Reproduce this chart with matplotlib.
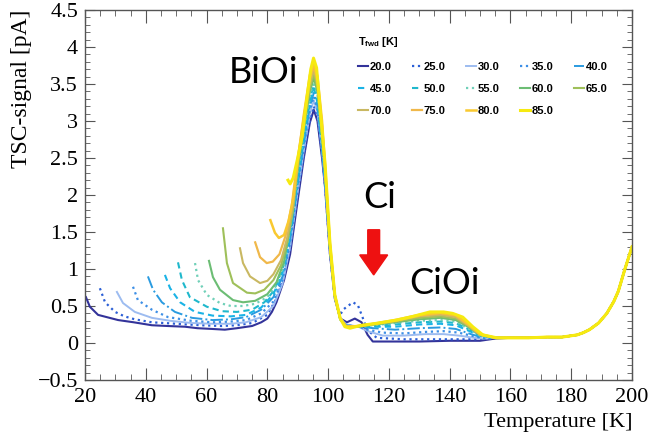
import numpy as np
import matplotlib
matplotlib.use("Agg")
import matplotlib.pyplot as plt
from matplotlib.ticker import MultipleLocator, FuncFormatter

plt.rcParams['mathtext.fontset'] = 'custom'
plt.rcParams['mathtext.rm'] = 'Liberation Sans'
plt.rcParams['mathtext.bf'] = 'Liberation Sans:bold'

# forward-injection temperatures of the TSC runs
t_fwd = [20.0, 25.0, 30.0, 35.0, 40.0, 45.0, 50.0, 55.0, 60.0, 65.0, 70.0, 75.0, 80.0, 85.0]

# common high-temperature tail (all runs coincide here)
t_tail = [160, 166, 172, 177, 182, 184, 186, 189, 191.7, 194, 195.5, 197.6, 200]
s_tail = [0.07, 0.07, 0.08, 0.08, 0.11, 0.14, 0.18, 0.27, 0.40, 0.56, 0.70, 0.99, 1.30]

t20 = [20.3, 21.6, 24.3, 30.9, 36, 42, 47, 52.9, 57, 61.8, 66, 70, 75, 78, 80, 81.5, 83, 85.5, 87.5, 90, 92, 94, 95.3, 96.5,
       98, 99, 100.6, 102.2, 104, 106.2, 108.8, 111, 113, 114.7, 120, 130, 140, 150, 155]
s20 = [0.62, 0.49, 0.38, 0.31, 0.28, 0.24, 0.23, 0.22, 0.20, 0.19, 0.18, 0.20, 0.23, 0.28, 0.33, 0.42, 0.55, 0.85, 1.20, 1.93,
       2.50, 2.98, 3.15, 3.00, 2.50, 2.10, 1.20, 0.60, 0.33, 0.28, 0.33, 0.28, 0.11, 0.02, 0.02, 0.02, 0.03, 0.03, 0.06]

t25 = [24.9, 26.6, 29.9, 33, 36.4, 42, 50, 58, 65, 70, 75, 80, 83, 85.5, 87.5, 90, 92, 94, 95.3, 96.5, 98, 99, 100.6, 102.2,
       104, 104.9, 106.5, 108.2, 109.8, 111.4, 112.8, 116, 125, 135, 142, 148, 155]
s25 = [0.74, 0.55, 0.42, 0.36, 0.32, 0.28, 0.26, 0.24, 0.23, 0.24, 0.27, 0.38, 0.60, 0.90, 1.28, 2.00, 2.55, 3.02, 3.20, 3.05,
       2.55, 2.12, 1.22, 0.60, 0.38, 0.45, 0.50, 0.55, 0.51, 0.34, 0.18, 0.07, 0.05, 0.05, 0.05, 0.05, 0.07]

t30 = [30.5, 32.5, 36.4, 42, 48, 55, 62, 68, 73, 78, 82, 85, 87.5, 90, 92, 94, 95.3, 96.5, 98, 99, 100.6, 102.2, 104, 106,
       110, 113, 118, 125, 132, 138, 143, 148, 152, 155]
s30 = [0.69, 0.54, 0.42, 0.34, 0.30, 0.27, 0.26, 0.26, 0.28, 0.35, 0.50, 0.80, 1.30, 2.05, 2.60, 3.10, 3.28, 3.12, 2.60, 2.15,
       1.25, 0.62, 0.33, 0.25, 0.22, 0.16, 0.10, 0.10, 0.12, 0.12, 0.10, 0.07, 0.06, 0.07]

t35 = [35.8, 37.4, 42, 47.3, 55, 62, 68, 73, 78, 82, 85, 87.5, 90, 92, 94, 95.3, 96.5, 98, 99, 100.6, 102.2, 104, 106, 110,
       113, 118, 125, 132, 138, 143, 148, 152, 155]
s35 = [0.76, 0.58, 0.45, 0.35, 0.30, 0.28, 0.29, 0.31, 0.40, 0.56, 0.85, 1.35, 2.10, 2.65, 3.15, 3.33, 3.15, 2.62, 2.18, 1.26,
       0.63, 0.33, 0.24, 0.22, 0.18, 0.14, 0.13, 0.15, 0.16, 0.14, 0.09, 0.06, 0.07]

t40 = [40.7, 42.4, 45.3, 49.6, 55.2, 62, 68, 73, 78, 82, 85, 87.5, 90, 92, 94, 95.3, 96.5, 98, 99, 100.6, 102.2, 104, 106,
       110, 115, 122, 130, 137, 142, 147, 151, 155]
s40 = [0.90, 0.72, 0.55, 0.42, 0.34, 0.31, 0.32, 0.35, 0.45, 0.62, 0.90, 1.40, 2.15, 2.70, 3.20, 3.38, 3.20, 2.65, 2.20, 1.28,
       0.64, 0.33, 0.24, 0.22, 0.20, 0.18, 0.20, 0.21, 0.19, 0.12, 0.07, 0.07]

t45 = [46.3, 48, 51.3, 56.2, 62, 68, 73, 78, 82, 85, 87.5, 90, 92, 94, 95.3, 96.5, 98, 99, 100.6, 102.2, 104, 106, 110, 115,
       122, 130, 137, 142, 146, 150, 155]
s45 = [0.92, 0.74, 0.55, 0.42, 0.37, 0.36, 0.38, 0.48, 0.66, 0.95, 1.45, 2.20, 2.75, 3.25, 3.43, 3.25, 2.68, 2.22, 1.29, 0.64,
       0.32, 0.23, 0.22, 0.22, 0.22, 0.25, 0.26, 0.24, 0.17, 0.10, 0.07]

t50 = [50.6, 51.9, 54.5, 60.1, 65, 70, 75, 79, 82, 85, 87.5, 90, 92, 94, 95.3, 96.5, 98, 99, 100.6, 102.2, 104, 106, 110, 115,
       122, 130, 137, 142, 146, 150, 155]
s50 = [1.09, 0.85, 0.62, 0.49, 0.43, 0.42, 0.45, 0.55, 0.70, 1.00, 1.50, 2.25, 2.80, 3.30, 3.48, 3.30, 2.70, 2.25, 1.30, 0.64,
       0.32, 0.22, 0.22, 0.23, 0.25, 0.28, 0.29, 0.27, 0.19, 0.10, 0.07]

t55 = [56.2, 57.2, 60.1, 64.4, 68, 72, 76, 80, 83, 85.5, 87.5, 90, 92, 94, 95.3, 96.5, 98, 99, 100.6, 102.2, 104, 106, 110,
       115, 122, 130, 137, 142, 146, 150, 155]
s55 = [1.08, 0.85, 0.65, 0.54, 0.50, 0.50, 0.53, 0.62, 0.78, 1.05, 1.55, 2.30, 2.85, 3.35, 3.53, 3.35, 2.75, 2.28, 1.30, 0.64,
       0.32, 0.22, 0.22, 0.24, 0.27, 0.30, 0.31, 0.29, 0.20, 0.10, 0.07]

t60 = [60.8, 62.1, 64.4, 68.7, 72, 76, 80, 83, 85.5, 87.5, 90, 92, 94, 95.3, 96.5, 98, 99, 100.6, 102.2, 104, 106, 110, 115,
       122, 130, 137, 142, 146, 150, 155]
s60 = [1.11, 0.89, 0.72, 0.58, 0.55, 0.57, 0.66, 0.82, 1.10, 1.60, 2.35, 2.90, 3.40, 3.58, 3.40, 2.80, 2.30, 1.31, 0.64, 0.32,
       0.22, 0.22, 0.25, 0.28, 0.32, 0.34, 0.31, 0.22, 0.11, 0.07]

t65 = [65.4, 66.7, 68.7, 73.3, 76, 79, 82, 84.5, 86.5, 88.5, 90, 92, 94, 95.3, 96.5, 98, 99, 100.6, 102.2, 104, 106, 110, 115,
       122, 130, 137, 142, 146, 150, 155]
s65 = [1.55, 1.08, 0.81, 0.68, 0.67, 0.72, 0.85, 1.05, 1.35, 1.80, 2.40, 2.95, 3.45, 3.63, 3.45, 2.85, 2.33, 1.32, 0.64, 0.32,
       0.22, 0.22, 0.25, 0.29, 0.34, 0.36, 0.33, 0.23, 0.11, 0.07]

t70 = [71, 72, 74.3, 77.6, 80, 82, 84.5, 86.5, 88.5, 90, 92, 94, 95.3, 96.5, 98, 99, 100.6, 102.2, 104, 106, 110, 115, 122,
       130, 137, 142, 146, 150, 155]
s70 = [1.28, 1.08, 0.90, 0.81, 0.84, 0.93, 1.12, 1.42, 1.88, 2.45, 3.00, 3.50, 3.68, 3.50, 2.90, 2.35, 1.33, 0.65, 0.33, 0.22,
       0.23, 0.26, 0.30, 0.36, 0.38, 0.35, 0.24, 0.11, 0.07]

t75 = [76, 77.6, 79.8, 81.8, 84, 86, 88, 90, 92, 94, 95.3, 96.5, 98, 99, 100.6, 102.2, 104, 106, 110, 115, 122, 130, 137, 142,
       146, 150, 155]
s75 = [1.36, 1.16, 1.08, 1.10, 1.20, 1.45, 1.85, 2.50, 3.05, 3.58, 3.73, 3.55, 2.95, 2.38, 1.34, 0.65, 0.33, 0.22, 0.23, 0.26,
       0.30, 0.37, 0.40, 0.37, 0.25, 0.12, 0.07]

t80 = [81, 82.5, 83.8, 85.5, 87, 88.5, 90, 92, 94, 95.3, 96.5, 98, 99, 100.6, 102.2, 104, 106, 110, 115, 122, 130, 137, 142,
       146, 150, 155]
s80 = [1.66, 1.49, 1.42, 1.46, 1.65, 1.95, 2.45, 3.08, 3.62, 3.78, 3.60, 3.00, 2.40, 1.35, 0.65, 0.33, 0.22, 0.23, 0.26, 0.31,
       0.38, 0.41, 0.38, 0.26, 0.12, 0.07]

t85 = [86.8, 87.5, 88.5, 90, 91.5, 93, 94.3, 95.2, 96.2, 97.5, 99, 100.6, 102.2, 104, 105.5, 107.2, 111, 115, 122.6, 128,
       133.5, 138, 141, 144.3, 147.6, 150.9, 155.5]
s85 = [2.20, 2.15, 2.23, 2.50, 2.80, 3.30, 3.70, 3.85, 3.72, 3.10, 2.42, 1.35, 0.65, 0.33, 0.22, 0.20, 0.24, 0.26, 0.31, 0.36,
       0.42, 0.42, 0.40, 0.35, 0.22, 0.11, 0.07]

runs_t = [t20, t25, t30, t35, t40, t45, t50, t55, t60, t65, t70, t75, t80, t85]
runs_s = [s20, s25, s30, s35, s40, s45, s50, s55, s60, s65, s70, s75, s80, s85]

colors = ['#33339a', '#2b5fd6', '#9dbcf0', '#3d8fe6', '#2a9be0', '#1ab3e6', '#1fb8cc',
          '#70d0b8', '#6cbd74', '#9fc05a', '#c9b862', '#f0b84a', '#f9c930', '#f6ea10']
styles = ['-', ':', '-', ':', '-.', (0, (3, 2)), (0, (3, 2)), ':', '-', '-', '-', '-', '-', '-']
widths = [1.5, 1.6, 1.4, 1.6, 1.4, 1.5, 1.5, 1.6, 1.5, 1.5, 1.5, 1.6, 1.8, 2.2]

fig = plt.figure(figsize=(6.51, 4.37), dpi=100)
ax = fig.add_axes([85 / 651, 57 / 437, (632 - 85) / 651, (427 - 57) / 437])

lines = []
for i in range(len(t_fwd)):
    tt = np.concatenate([runs_t[i], t_tail])
    ss = np.concatenate([runs_s[i], s_tail])
    ln, = ax.plot(tt, ss, color=colors[i], ls=styles[i], lw=widths[i], label='%.1f' % t_fwd[i])
    lines.append(ln)

ax.set_xlim(20, 200)
ax.set_ylim(-0.5, 4.5)

serif = 'Liberation Serif'
ax.xaxis.set_major_locator(MultipleLocator(20))
ax.xaxis.set_minor_locator(MultipleLocator(5))
ax.yaxis.set_major_locator(MultipleLocator(0.5))
ax.yaxis.set_minor_locator(MultipleLocator(0.1))
ax.yaxis.set_major_formatter(FuncFormatter(lambda v, p: ('%g' % v).replace('-', '\u2212')))
ax.tick_params(which='both', direction='in', top=True, right=True, color='#555555')
ax.tick_params(axis='x', which='major', length=9, pad=6)
ax.tick_params(axis='x', which='minor', length=4.5)
ax.tick_params(axis='y', which='major', length=7, pad=5)
ax.tick_params(axis='y', which='minor', length=3.5)
for lab in ax.get_xticklabels() + ax.get_yticklabels():
    lab.set_fontfamily(serif)
    lab.set_fontsize(16)
for sp in ax.spines.values():
    sp.set_color('#555555')
    sp.set_linewidth(1.0)

ax.set_xlabel('Temperature [K]', loc='right', fontfamily=serif, fontsize=16, labelpad=4)
ax.set_ylabel('TSC-signal [pA]', loc='top', fontfamily=serif, fontsize=17, labelpad=4)

# legend laid out row by row (5 columns)
order = [0, 5, 10, 1, 6, 11, 2, 7, 12, 3, 8, 13, 4, 9]
leg = ax.legend([lines[k] for k in order], [lines[k].get_label() for k in order],
                ncol=5, frameon=False, loc='upper left',
                bbox_to_anchor=(358 / 651, 1 - 35 / 437), bbox_transform=fig.transFigure,
                prop={'family': 'Liberation Sans', 'weight': 'bold', 'size': 8},
                title=r'$\mathbf{T}_{\mathbf{fwd}}$ [K]',
                title_fontproperties={'family': 'Liberation Sans', 'weight': 'bold', 'size': 8},
                alignment='left', handlelength=0.9, handletextpad=0.15,
                columnspacing=1.85, labelspacing=1.1, borderpad=0, borderaxespad=0)
leg._legend_box.sep = 9

# peak labels
ax.text(78.9, 3.65, 'BiOi', fontsize=26, family='Lato', ha='center', va='center')
ax.text(117, 1.96, 'Ci', fontsize=26, family='Lato', ha='center', va='center')
ax.text(138.4, 0.81, 'CiOi', fontsize=26, family='Lato', ha='center', va='center')
ax.arrow(115, 1.53, 0, -0.61, width=3.9, head_width=9.2, head_length=0.27,
         length_includes_head=True, color='#ee1111', zorder=5)

fig.savefig('out.png', dpi=100)
